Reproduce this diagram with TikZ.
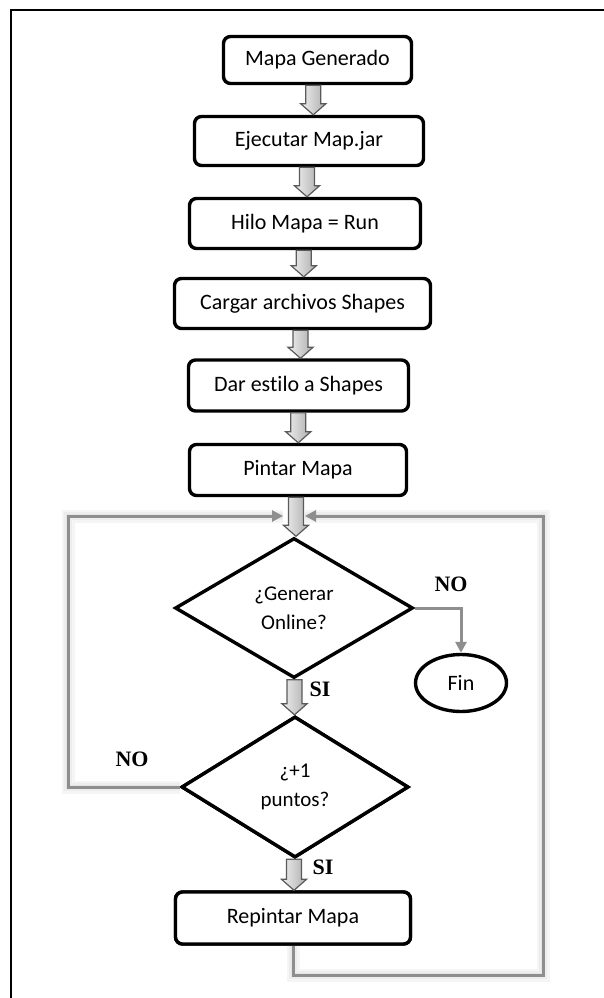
\documentclass[tikz,border=0pt]{standalone}
\usepackage{fontspec}
\setmainfont[Ligatures=NoCommon]{Carlito}
\newfontfamily\labelfont{Liberation Serif}
\usetikzlibrary{shapes.geometric,arrows.meta,calc}

\definecolor{loopgray}{HTML}{8E8E8E}
\definecolor{arrowedge}{HTML}{5A5A5A}

\tikzset{
  stepbox/.style={draw=black, line width=3.4pt, rounded corners=7pt, fill=white,
    font=\fontsize{22}{26}\selectfont, inner sep=0pt},
  decision/.style={draw=black, line width=3.4pt, diamond, fill=white, inner sep=0pt,
    align=center, font=\fontsize{21}{29}\selectfont},
  terminal/.style={draw=black, line width=3.4pt, ellipse, fill=white, inner sep=0pt,
    font=\fontsize{22}{26}\selectfont},
  loopline/.style={draw=loopgray, line width=3pt,
    -{Triangle[length=11pt,width=11pt]}},
  glowA/.style={draw=black!4, line width=13pt, line join=miter},
  glowB/.style={draw=black!7, line width=8pt, line join=miter},
  glowC/.style={draw=black!10, line width=4pt, line join=miter},
  blockarrow/.style={draw=arrowedge, line width=1.2pt, line join=miter,
    left color=black!6, right color=black!32},
  answer/.style={font=\labelfont\bfseries\fontsize{22}{24}\selectfont, inner sep=0pt},
}

% hollow block arrow running straight down from #1 to #2
\newcommand\blockarr[2]{%
  \path[blockarrow] let \p1=(#1), \p2=(#2), \n1={(\x1+\x2)/2} in
    (\n1-7.5pt,\y1) -- (\n1+7.5pt,\y1) -- (\n1+7.5pt,\y2+11pt)
    -- (\n1+12.5pt,\y2+11pt) -- (\n1,\y2) -- (\n1-12.5pt,\y2+11pt)
    -- (\n1-7.5pt,\y2+11pt) -- cycle;}

\begin{document}
\begin{tikzpicture}[x=1pt,y=-1pt]
\useasboundingbox (0,0) rectangle (603,998);

% page frame (top and left edges)
\coordinate (frameBL) at (11,1000);
\coordinate (frameTL) at (11,10);
\coordinate (frameTR) at (605,10);
\draw[line width=2.4pt] (frameBL) -- (frameTL) -- (frameTR);

% process steps
\node[stepbox, minimum width=188, minimum height=47] (mapa)   at (317.5,60)  {Mapa Generado};
\node[stepbox, minimum width=229, minimum height=49] (ejec)   at (309,141)   {Ejecutar Map.jar};
\node[stepbox, minimum width=231, minimum height=50] (hilo)   at (305,223.5) {Hilo Mapa = Run};
\node[stepbox, minimum width=256, minimum height=50] (cargar) at (302.5,303.5) {Cargar archivos Shapes};
\node[stepbox, minimum width=220, minimum height=51] (dar)    at (298.5,385.5) {Dar estilo a Shapes};
\node[stepbox, minimum width=217, minimum height=51] (pintar) at (298,470)   {Pintar Mapa};

% decisions and end
\node[decision, minimum width=238, minimum height=140] (gen)  at (294,608) {¿Generar\\Online?};
\node[decision, minimum width=227, minimum height=141] (mas)  at (295,787) {¿+1\\puntos?};
\node[stepbox, minimum width=235, minimum height=52] (repin)  at (293,918)   {Repintar Mapa};
\node[terminal, minimum width=91, minimum height=57] (fin)    at (461,683)   {Fin};

% loop corners
\coordinate (inL) at (283,516);
\coordinate (inR) at (305,516);
\coordinate (cornerTL) at (68,516);
\coordinate (cornerTR) at (543,516);
\coordinate (cornerBR) at (543,975);

% soft shadow under the loop lines
\begin{scope}[shift={(3,4)}]
  \foreach \g in {glowA,glowB,glowC}{
    \draw[\g] (repin.south) |- (cornerBR) |- (inR);
    \draw[\g] (mas.west) -| (cornerTL) -- (inL);
  }
\end{scope}
\node[decision, minimum width=227, minimum height=141] at (mas) {¿+1\\puntos?};
\node[stepbox, minimum width=235, minimum height=52] at (repin) {Repintar Mapa};

% loop connectors
\draw[loopline] (repin.south) |- (cornerBR) |- (inR);
\draw[loopline] (mas.west) -| (cornerTL) -- (inL);
\draw[loopline] (gen.east) -| (fin.north);

% main flow
\blockarr{mapa.south}{ejec.north}
\blockarr{ejec.south}{hilo.north}
\blockarr{hilo.south}{cargar.north}
\blockarr{cargar.south}{dar.north}
\blockarr{dar.south}{pintar.north}
\blockarr{pintar.south}{gen.north}
\blockarr{gen.south}{mas.north}
\blockarr{mas.south}{repin.north}

% answers
\node[answer] (noGen) at (451,584) {NO};
\node[answer] (siGen) at (320,689) {SI};
\node[answer] (noMas) at (132,759) {NO};
\node[answer] (siMas) at (323,867) {SI};
\end{tikzpicture}
\end{document}
